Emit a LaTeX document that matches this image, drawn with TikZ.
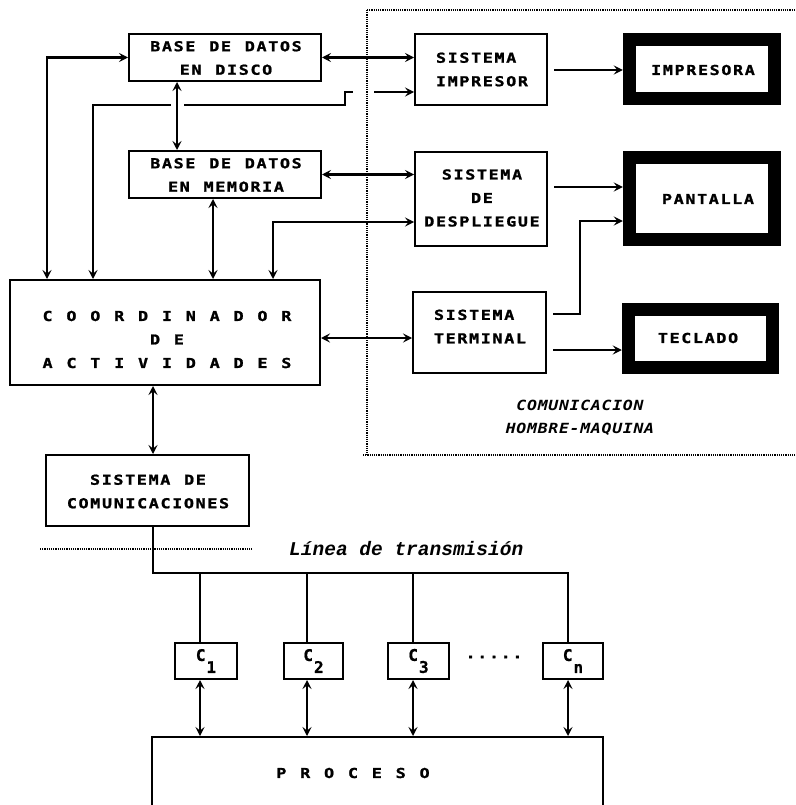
\documentclass[tikz,border=0pt]{standalone}
\usepackage{fontspec}
\usetikzlibrary{arrows.meta}
\newfontfamily\dm{DejaVu Sans Mono}[FakeStretch=1.22, LetterSpace=12, WordSpace=1.18, BoldFont={DejaVu Sans Mono Bold}, BoldFeatures={FakeBold=1.3}]
\newfontfamily\dmi{DejaVu Sans Mono}[FakeStretch=1.18, LetterSpace=5, BoldItalicFont={DejaVu Sans Mono Bold Oblique}]
\newfontfamily\cf{DejaVu Sans Mono}[BoldFont={DejaVu Sans Mono Bold}, BoldFeatures={FakeBold=1}]
\newfontfamily\lmo{Liberation Mono}
\tikzset{
  box/.style={draw, line width=2pt, inner sep=0pt, align=center},
  bigbox/.style={draw, line width=13.5pt, inner sep=0pt, align=center},
  txt/.style={inner sep=0pt, align=center, font=\dm\bfseries\fontsize{13.7}{23.5}\selectfont},
  cbox/.style={draw, line width=2pt, inner sep=0pt, minimum height=36, font=\cf\bfseries\fontsize{16}{16}\selectfont},
  conn/.style={line width=2.3pt},
  tree/.style={line width=1.6pt},
  dots/.style={line width=1.3pt, dash pattern=on 1.2pt off 1pt},
  >={Stealth[length=9pt,width=9pt,inset=3.5pt]}
}
\begin{document}
\begin{tikzpicture}[x=1pt,y=-1pt]
\useasboundingbox (0,0) rectangle (795,805);
\clip (0,0) rectangle (795,805);
\fill[white] (0,0) rectangle (795,805);
% boxes
\node[box, minimum width=192, minimum height=47] (disco) at (225,57.5) {};
\node[txt] (discot) at (226,58) {BASE DE DATOS\\EN DISCO};
\node[box, minimum width=192, minimum height=47] (memoria) at (225,174.5) {};
\node[txt] (memoriat) at (226,175) {BASE DE DATOS\\EN MEMORIA};
\node[box, minimum width=310, minimum height=105] (coord) at (165,332.5) {};
\node[txt] (coordt) at (167,339.5) {C O O R D I N A D O R\\D E\\A C T I V I D A D E S};
\node[box, minimum width=203, minimum height=71] (comun) at (147.5,490.5) {};
\node[txt] (comunt) at (148,491.5) {SISTEMA DE\\COMUNICACIONES};
\node[box, minimum width=132, minimum height=71] (impresor) at (481,69.5) {};
\node[txt, align=left] (impresort) at (482,69.5) {SISTEMA\\IMPRESOR};
\node[box, minimum width=132, minimum height=94] (despl) at (481,199) {};
\node[txt] (desplt) at (482,198) {SISTEMA\\DE\\DESPLIEGUE};
\node[box, minimum width=133, minimum height=81] (term) at (479.5,332.5) {};
\node[txt, align=left] (termt) at (480,326.5) {SISTEMA\\TERMINAL};
\node[bigbox, minimum width=145, minimum height=59] (impresora) at (702,69) {};
\node[txt] (impresorat) at (703,70) {IMPRESORA};
\node[bigbox, minimum width=145, minimum height=82] (pantalla) at (702,198.5) {};
\node[txt] (pantallat) at (708,199) {PANTALLA};
\node[bigbox, minimum width=144, minimum height=58] (teclado) at (700.5,338.5) {};
\node[txt] (tecladot) at (698,338) {TECLADO};
% C boxes
\node[cbox, minimum width=62] (c1) at (206,661) {C\kern1pt\raisebox{-12pt}{1}};
\node[cbox, minimum width=59] (c2) at (313.5,661) {C\kern1pt\raisebox{-12pt}{2}};
\node[cbox, minimum width=61] (c3) at (418.5,661) {C\kern1pt\raisebox{-12pt}{3}};
\node[cbox, minimum width=60] (cn) at (573,661) {C\kern1pt\raisebox{-12pt}{n}};
\node[txt] (puntos) at (494,657) {.....};
\node[box, minimum width=451, minimum height=100] (proc) at (377.5,787) {};
\node[txt] (proct) at (353,773) {P R O C E S O};
% labels
\node[inner sep=0pt, align=center, font=\dmi\bfseries\itshape\fontsize{14}{23}\selectfont] (hm) at (580,418) {COMUNICACION\\HOMBRE-MAQUINA};
\node[inner sep=0pt, anchor=base west, font=\lmo\bfseries\itshape\fontsize{19.5}{20}\selectfont] (linea) at (289,555) {Línea de transmisión};
% helper coordinates
\coordinate (xa) at (47,0);
\coordinate (xb) at (93,0);
\coordinate (xc) at (177,0);
\coordinate (xd) at (213,0);
\coordinate (xe) at (273,0);
\coordinate (xf) at (153,0);
\coordinate (xs) at (345,0);
\coordinate (xt) at (580,0);
\coordinate (x1) at (200,0);
\coordinate (x2) at (307,0);
\coordinate (x3) at (413,0);
\coordinate (x4) at (568,0);
\coordinate (ya) at (0,92);
\coordinate (yb) at (0,105);
\coordinate (yc) at (0,222);
\coordinate (yd) at (0,338);
\coordinate (ye) at (0,314);
\coordinate (yf) at (0,221);
\coordinate (yg) at (0,573);
\coordinate (yh) at (0,187);
\coordinate (yi) at (0,350);
\coordinate (yj) at (0,70);
% connector with hop
\draw[conn,<->] (coord.north -| xb) -- (xb |- yb) -- (xs |- yb) -- (xs |- ya) -- (impresor.west |- ya);
\fill[white] (171,100) rectangle (184,110);
\fill[white] (353,87) rectangle (374,97);
% other connectors
\draw[conn,<->] (coord.north -| xa) |- (disco.west);
\draw[conn,<->] (disco.south -| xc) -- (memoria.north -| xc);
\draw[conn,<->] (memoria.south -| xd) -- (coord.north -| xd);
\draw[conn,<->] (coord.north -| xe) |- (despl.west |- yc);
\draw[conn,<->] (disco.east) -- (disco.east -| impresor.west);
\draw[conn,<->] (memoria.east) -- (memoria.east -| despl.west);
\draw[conn,<->] (coord.east |- yd) -- (term.west |- yd);
\draw[conn,->,shorten <=6pt] (impresor.east |- yj) -- (impresora.west |- yj);
\draw[conn,->,shorten <=6pt] (despl.east |- yh) -- (pantalla.west |- yh);
\draw[conn,->,shorten <=6pt] (term.east |- ye) -- (xt |- ye) -- (xt |- yf) -- (pantalla.west |- yf);
\draw[conn,->,shorten <=6pt] (term.east |- yi) -- (teclado.west |- yi);
\draw[conn,<->] (coord.south -| xf) -- (comun.north -| xf);
% tree
\draw[tree] (comun.south -| xf) |- (x4 |- yg) -- (cn.north -| x4);
\draw[tree] (x1 |- yg) -- (c1.north -| x1);
\draw[tree] (x2 |- yg) -- (c2.north -| x2);
\draw[tree] (x3 |- yg) -- (c3.north -| x3);
\draw[conn,<->] (c1.south -| x1) -- (proc.north -| x1);
\draw[conn,<->] (c2.south -| x2) -- (proc.north -| x2);
\draw[conn,<->] (c3.south -| x3) -- (proc.north -| x3);
\draw[conn,<->] (cn.south -| x4) -- (proc.north -| x4);
% dotted region
\draw[dots] (367,10) -- (795,10);
\draw[dots] (367,10) -- (367,455);
\draw[dots] (363,455) -- (795,455);
\draw[dots] (40,549) -- (253,549);
\end{tikzpicture}
\end{document}
